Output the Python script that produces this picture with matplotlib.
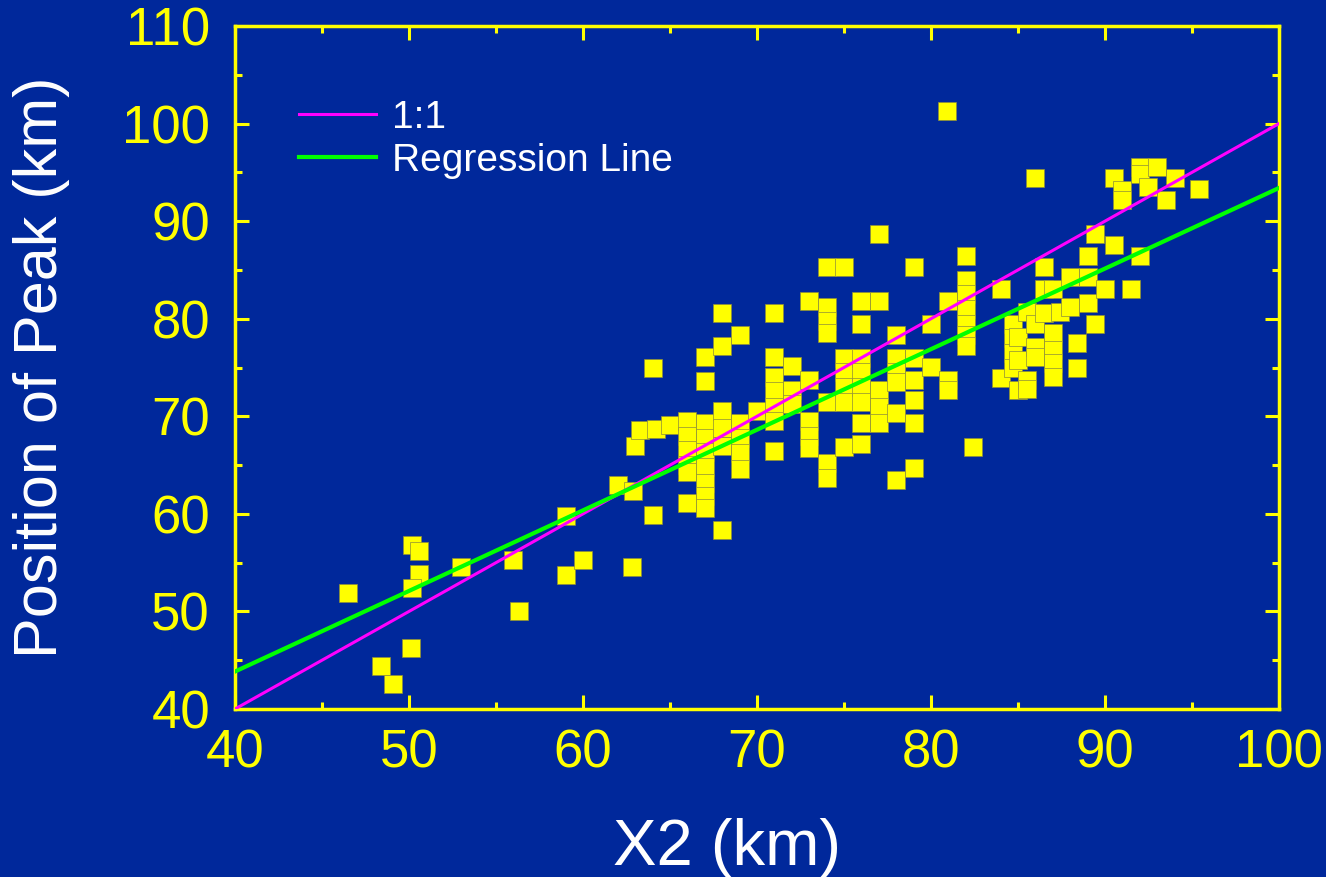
import matplotlib
matplotlib.use('Agg')
import matplotlib.pyplot as plt
import numpy as np
from matplotlib.ticker import MultipleLocator

plt.rcParams['font.family'] = ['Liberation Sans', 'DejaVu Sans']

# X2 (km) and position of peak (km)
x2 = [46.5, 50.2, 50.6, 50.6, 50.2, 48.4, 49.1, 50.1, 53, 56, 56.3, 59, 59, 60, 62.8,
      62, 62.9, 63, 63.3, 64.2, 64, 64, 65,
      66, 66, 66, 66, 66, 66,
      67, 67, 67, 67, 67, 67, 67, 67, 67,
      68, 68, 68, 68, 68, 68,
      69, 69, 69, 69, 69,
      70,
      71, 71, 71, 71, 71, 71, 71,
      72, 72, 72,
      73, 73, 73, 73, 73,
      74, 74, 74, 74, 74, 74, 74,
      75, 75, 75, 75, 75, 75,
      76, 76, 76, 76, 76, 76, 76, 76,
      77, 77, 77, 77, 77,
      78, 78, 78, 78, 78, 78,
      79, 79, 79, 79, 79, 79,
      80, 80, 80.9,
      81, 81, 81,
      82, 82, 82, 82, 82, 82, 82, 82.4,
      84, 84, 84.7, 84.7, 84.7, 84.7,
      85, 85, 85, 85.5, 85.5, 85.5,
      86, 86, 86, 86, 86.5, 86.5, 86.5,
      87, 87, 87, 87, 87, 87.4,
      88, 88, 88.4, 88.4,
      89, 89, 89, 89.4, 89.4,
      90, 90.5, 90.5, 91, 91, 91.5,
      92, 92, 92, 92.5, 93, 93.5, 94, 95.4]
peak = [51.9, 56.8, 56.2, 53.8, 52.4, 44.4, 42.6, 46.3, 54.6, 55.3, 50.0, 59.8, 53.7, 55.3, 54.6,
        63.0, 62.3, 67.0, 68.6, 68.7, 75.0, 59.9, 69.1,
        69.5, 68.0, 66.5, 65.0, 64.3, 61.1,
        76.1, 73.6, 69.3, 67.8, 66.3, 64.8, 63.2, 61.8, 60.6,
        80.6, 77.2, 70.5, 68.8, 67.0, 58.3,
        78.3, 69.3, 67.8, 66.2, 64.6,
        70.5,
        80.6, 76.1, 74.0, 72.6, 71.0, 69.5, 66.4,
        75.2, 72.7, 71.3,
        81.8, 73.7, 69.5, 68.0, 66.8,
        85.3, 81.2, 79.8, 78.5, 71.5, 65.2, 63.7,
        85.3, 76.0, 74.5, 73.0, 71.5, 66.9,
        81.8, 79.5, 76.0, 74.5, 73.0, 71.5, 69.3, 67.2,
        88.7, 81.8, 72.7, 71.0, 69.3,
        78.3, 76.0, 74.5, 73.5, 70.3, 63.5,
        85.3, 76.0, 73.7, 71.7, 69.3, 64.7,
        79.5, 75.1, 101.3,
        81.8, 73.7, 72.7,
        86.4, 84.0, 82.5, 81.0, 79.5, 78.3, 77.2, 66.9,
        83.0, 73.9, 79.5, 78.0, 76.5, 75.0,
        78.1, 75.8, 72.7, 80.7, 73.7, 72.8,
        94.4, 79.5, 77.1, 76.1, 85.3, 83.0, 80.6,
        83.0, 78.5, 76.8, 75.5, 74.0, 80.7,
        84.3, 81.2, 77.5, 75.0,
        86.4, 84.3, 81.6, 88.7, 79.5,
        83.0, 94.4, 87.6, 93.2, 92.2, 83.0,
        95.5, 94.8, 86.4, 93.5, 95.5, 92.2, 94.4, 93.3]

# regression line
reg_slope = 0.826
reg_icpt = 10.8
line_x = np.array([40, 100])

bg = '#00289B'
yel = '#FFFF00'

fig = plt.figure(figsize=(13.26, 8.77), dpi=100, facecolor=bg)
ax = fig.add_axes([235/1326, 1-709/877, 1044/1326, 683/877])
ax.set_facecolor(bg)

ax.plot(x2, peak, 's', color=yel, ms=13.5, mec='#8c8c3c', mew=0.5, zorder=2)
ax.plot(line_x, line_x, color='#FF00FF', lw=2.2, label='1:1', zorder=3)
ax.plot(line_x, reg_icpt + reg_slope*line_x, color='#00FF00', lw=3, label='Regression Line', zorder=3)

ax.set_xlim(40, 100)
ax.set_ylim(40, 110)
ax.xaxis.set_major_locator(MultipleLocator(10))
ax.xaxis.set_minor_locator(MultipleLocator(5))
ax.yaxis.set_major_locator(MultipleLocator(10))
ax.yaxis.set_minor_locator(MultipleLocator(5))
for s in ax.spines.values():
    s.set_color(yel)
    s.set_linewidth(2.5)
ax.tick_params(which='both', direction='in', top=True, right=True, color=yel, width=2.2)
ax.tick_params(which='major', length=10, labelsize=38, labelcolor=yel)
ax.tick_params(which='minor', length=5)
ax.tick_params(axis='x', pad=14)
ax.tick_params(axis='y', pad=18)

leg = ax.legend(loc='upper left', bbox_to_anchor=(0.061, 0.892), frameon=False,
                fontsize=28, handlelength=2.0, handletextpad=0.4, labelspacing=0.18,
                borderpad=0, borderaxespad=0)
for t in leg.get_texts():
    t.set_color('white')

fig.text(727/1326, 1-865/877, 'X2 (km)', color='white', fontsize=47, ha='center', va='baseline')
fig.text(42/1326, 1-367.5/877, 'Position of Peak (km)', color='white', fontsize=44,
         rotation=90, ha='center', va='center')

fig.savefig('out.png', dpi=100, facecolor=bg)
